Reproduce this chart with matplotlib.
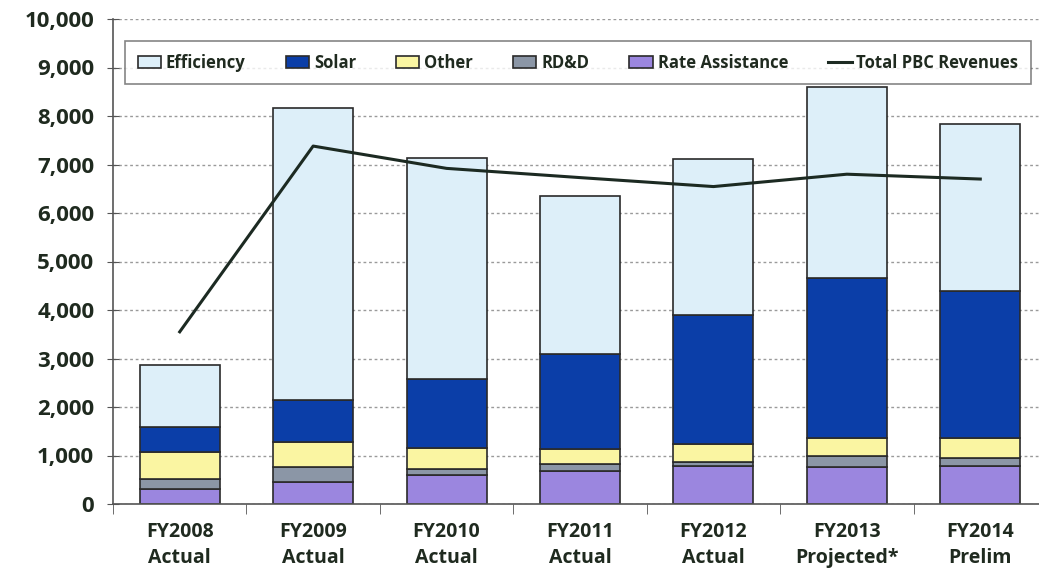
import matplotlib.pyplot as plt
import numpy as np
from matplotlib.ticker import FuncFormatter

years = ['FY2008\nActual', 'FY2009\nActual', 'FY2010\nActual', 'FY2011\nActual',
         'FY2012\nActual', 'FY2013\nProjected*', 'FY2014\nPrelim']
rate_assistance = [310, 450, 600, 690, 790, 770, 790]
rdd = [210, 320, 120, 125, 80, 220, 165]
other = [545, 500, 440, 320, 360, 375, 410]
solar = [515, 875, 1420, 1955, 2670, 3295, 3035]
efficiency = [1285, 6020, 4555, 3260, 3215, 3940, 3435]
total_pbc = [3550, 7380, 6920, 6730, 6545, 6800, 6700]

plt.rcParams['font.family'] = ['Open Sans', 'DejaVu Sans']

fig = plt.figure(figsize=(10.39, 5.77), dpi=100)
ax = fig.add_axes([113 / 1039, 73 / 577, 934 / 1039, 485 / 577])

x = np.arange(len(years))
w = 0.6
edge = '#2a2a2a'
series = [
    (rate_assistance, '#9b86df', 'Rate Assistance'),
    (rdd, '#8b96a6', 'RD&D'),
    (other, '#faf5a2', 'Other'),
    (solar, '#0b3ea8', 'Solar'),
    (efficiency, '#ddeff9', 'Efficiency'),
]
bottom = np.zeros(len(years))
handles = {}
for vals, col, name in series:
    b = ax.bar(x, vals, w, bottom=bottom, color=col, edgecolor=edge, linewidth=1.2,
               label=name, zorder=2)
    handles[name] = b
    bottom += np.array(vals)

line, = ax.plot(x, total_pbc, color='#1c2a22', linewidth=2.2, zorder=3,
                label='Total PBC Revenues')

ax.set_xlim(-0.5, len(years) - 0.5)
ax.set_ylim(0, 10000)
ax.set_yticks(np.arange(0, 10001, 1000))
ax.yaxis.set_major_formatter(FuncFormatter(lambda v, p: f'{int(v):,}'))
ax.yaxis.grid(True, color='#9a9a9a', linestyle=(0, (2, 2)), linewidth=1, zorder=0)
ax.set_axisbelow(True)

ax.set_xticks(x)
ax.set_xticklabels(years, fontsize=14, fontweight='bold', color='#1f2a1f', linespacing=1.4)
ax.set_xticks(np.arange(-0.5, len(years), 1), minor=True)
ax.tick_params(axis='x', which='major', length=0, pad=13)
ax.tick_params(axis='x', which='minor', length=7, direction='out', color='#555555')
ax.tick_params(axis='y', labelsize=16, length=9, direction='inout', color='#555555', pad=9)
for lab in ax.get_yticklabels():
    lab.set_fontweight('bold')
    lab.set_color('#1f2a1f')

for s in ['top', 'right']:
    ax.spines[s].set_visible(False)
for s in ['left', 'bottom']:
    ax.spines[s].set_color('#555555')
    ax.spines[s].set_linewidth(1.2)

order = ['Efficiency', 'Solar', 'Other', 'RD&D', 'Rate Assistance']
leg = ax.legend([handles[n] for n in order] + [line], order + ['Total PBC Revenues'],
                loc='upper left', bbox_to_anchor=(12 / 934, 1 - 22 / 485, 906 / 934, 0),
                mode='expand', ncol=6, frameon=True, fancybox=False, fontsize=12,
                handlelength=1.4, handletextpad=0.3, columnspacing=1.0,
                borderpad=0.75, borderaxespad=0, edgecolor='#666666')
leg.get_frame().set_linewidth(1.2)
for t in leg.get_texts():
    t.set_fontweight('bold')
    t.set_color('#1f2a1f')

fig.savefig('out.png', dpi=100)
